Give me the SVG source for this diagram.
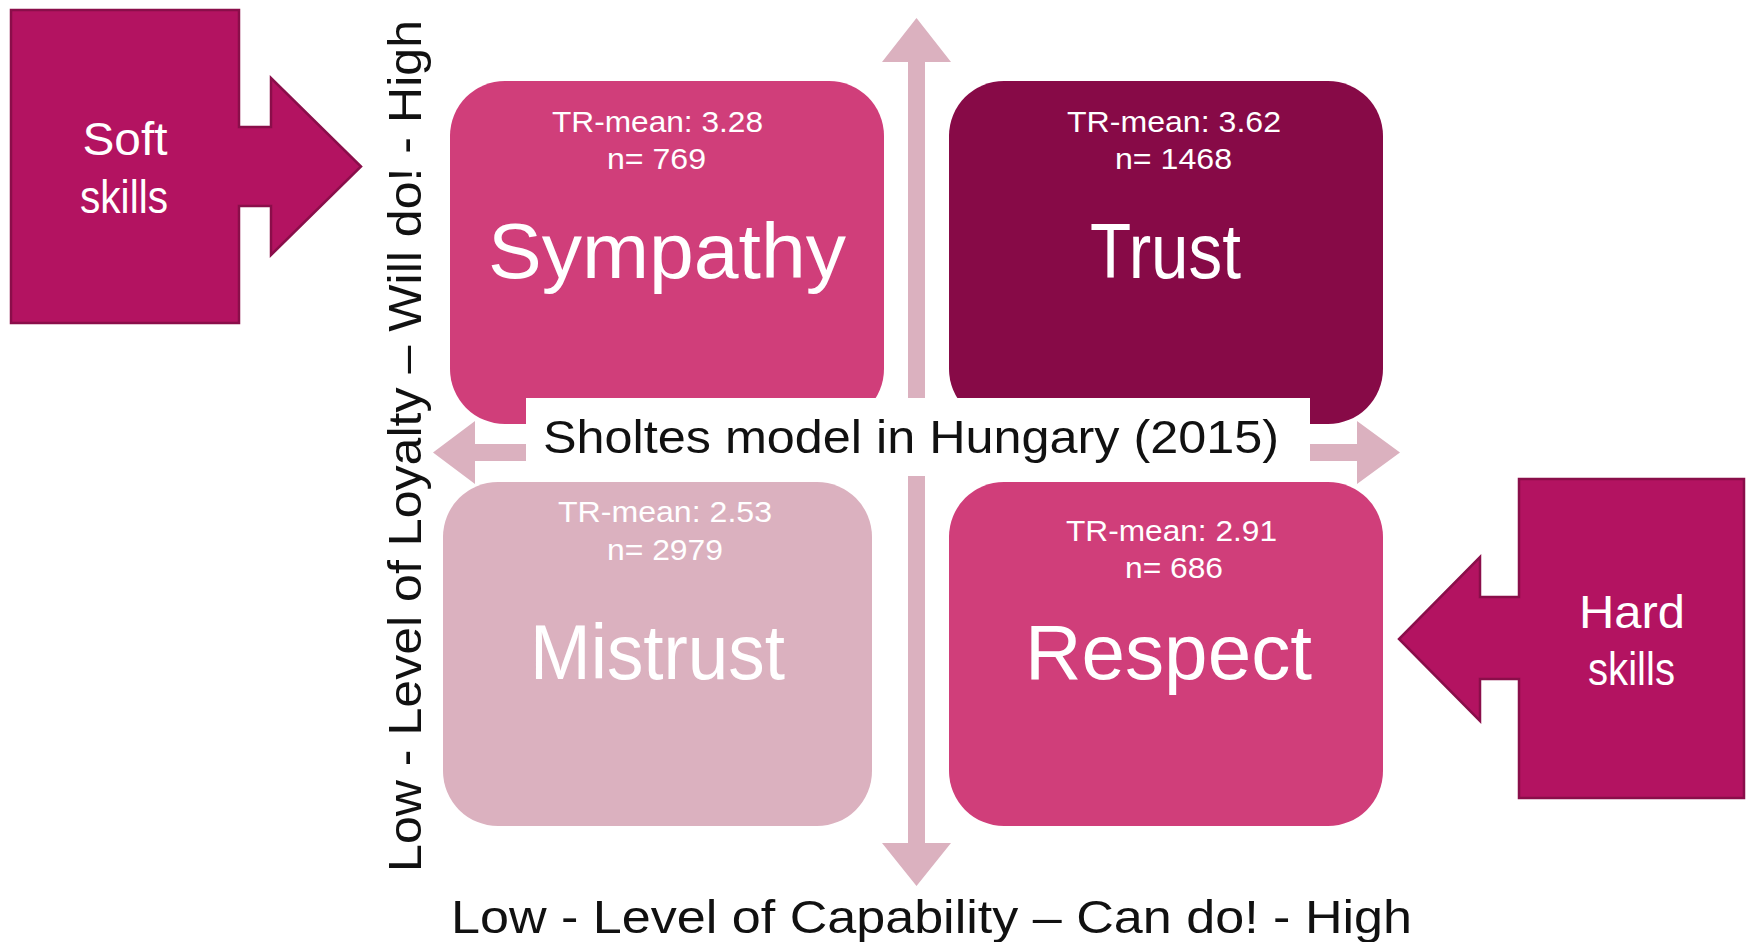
<svg xmlns="http://www.w3.org/2000/svg" width="1752" height="942" viewBox="0 0 1752 942">
<style>
  text { font-family: "Liberation Sans", Arial, sans-serif; }
  .axis { fill: #DBB1BF; }
  .skill { fill: #B31361; stroke: #8A0E4A; stroke-width: 2.5; stroke-linejoin: miter; }
  .skilltxt { fill: #FFFFFF; font-size: 46px; text-anchor: middle; }
  .stat { fill: #FFFFFF; font-size: 30px; text-anchor: middle; }
  .big { fill: #FFFFFF; font-size: 77px; text-anchor: middle; }
  .lbl { fill: #111111; font-size: 47px; text-anchor: middle; }
  .q-mid { fill: #D03E7A; }
  .q-dark { fill: #870A47; }
  .q-light { fill: #DBB1BF; }
</style>
<rect x="0" y="0" width="1752" height="942" fill="#FFFFFF"/>

<g id="connectors">
  <path class="axis" d="M916.5,18 L951,62 L925,62 L925,843 L951,843 L916.5,886 L882,843 L908,843 L908,62 L882,62 Z"/>
  <path class="axis" d="M433,452.5 L475,421 L475,444 L1357,444 L1357,421 L1400,452.5 L1357,484 L1357,461 L475,461 L475,484 Z"/>
</g>

<g id="soft-skills">
  <path class="skill" d="M11,10 H239 V127 H271 V78 L361,166.5 L271,255 V206 H239 V323 H11 Z"/>
  <text class="skilltxt" x="125" y="155" textLength="85" lengthAdjust="spacingAndGlyphs">Soft</text>
  <text class="skilltxt" x="124" y="213" textLength="88" lengthAdjust="spacingAndGlyphs">skills</text>
</g>

<g id="hard-skills">
  <path class="skill" d="M1744,479 V798 H1519 V679 H1480 V721 L1399,639 L1480,557 V597 H1519 V479 Z"/>
  <text class="skilltxt" x="1632" y="628" textLength="106" lengthAdjust="spacingAndGlyphs">Hard</text>
  <text class="skilltxt" x="1631.5" y="685" textLength="87" lengthAdjust="spacingAndGlyphs">skills</text>
</g>

<g id="sympathy">
  <rect class="q-mid" x="450" y="81" width="434" height="343" rx="55" ry="55"/>
  <text class="stat" x="657.5" y="132" textLength="211" lengthAdjust="spacingAndGlyphs">TR-mean: 3.28</text>
  <text class="stat" x="656.5" y="169" textLength="99" lengthAdjust="spacingAndGlyphs">n= 769</text>
  <text class="big" x="667" y="278" textLength="358" lengthAdjust="spacingAndGlyphs">Sympathy</text>
</g>

<g id="trust">
  <rect class="q-dark" x="949" y="81" width="434" height="343" rx="55" ry="55"/>
  <text class="stat" x="1174" y="132" textLength="214" lengthAdjust="spacingAndGlyphs">TR-mean: 3.62</text>
  <text class="stat" x="1173.5" y="169" textLength="117" lengthAdjust="spacingAndGlyphs">n= 1468</text>
  <text class="big" x="1165.5" y="278" textLength="151" lengthAdjust="spacingAndGlyphs">Trust</text>
</g>

<g id="mistrust">
  <rect class="q-light" x="443" y="482" width="429" height="344" rx="55" ry="55"/>
  <text class="stat" x="665" y="522" textLength="214" lengthAdjust="spacingAndGlyphs">TR-mean: 2.53</text>
  <text class="stat" x="665" y="560" textLength="116" lengthAdjust="spacingAndGlyphs">n= 2979</text>
  <text class="big" x="657.5" y="679" textLength="255" lengthAdjust="spacingAndGlyphs">Mistrust</text>
</g>

<g id="respect">
  <rect class="q-mid" x="949" y="482" width="434" height="344" rx="55" ry="55"/>
  <text class="stat" x="1171.5" y="541" textLength="211" lengthAdjust="spacingAndGlyphs">TR-mean: 2.91</text>
  <text class="stat" x="1174" y="578" textLength="98" lengthAdjust="spacingAndGlyphs">n= 686</text>
  <text class="big" x="1168.5" y="679" textLength="287" lengthAdjust="spacingAndGlyphs">Respect</text>
</g>

<g id="title">
  <rect x="526" y="398" width="784" height="78" fill="#FFFFFF"/>
  <text class="lbl" x="911" y="453" font-size="46" textLength="736" lengthAdjust="spacingAndGlyphs">Sholtes model in Hungary (2015)</text>
</g>

<g id="y-axis-label">
  <text class="lbl" transform="translate(421,446) rotate(-90)" x="0" y="0" textLength="852" lengthAdjust="spacingAndGlyphs">Low - Level of Loyalty – Will do! - High</text>
</g>

<g id="x-axis-label">
  <text class="lbl" x="931.5" y="933" textLength="961" lengthAdjust="spacingAndGlyphs">Low - Level of Capability – Can do! - High</text>
</g>
</svg>
